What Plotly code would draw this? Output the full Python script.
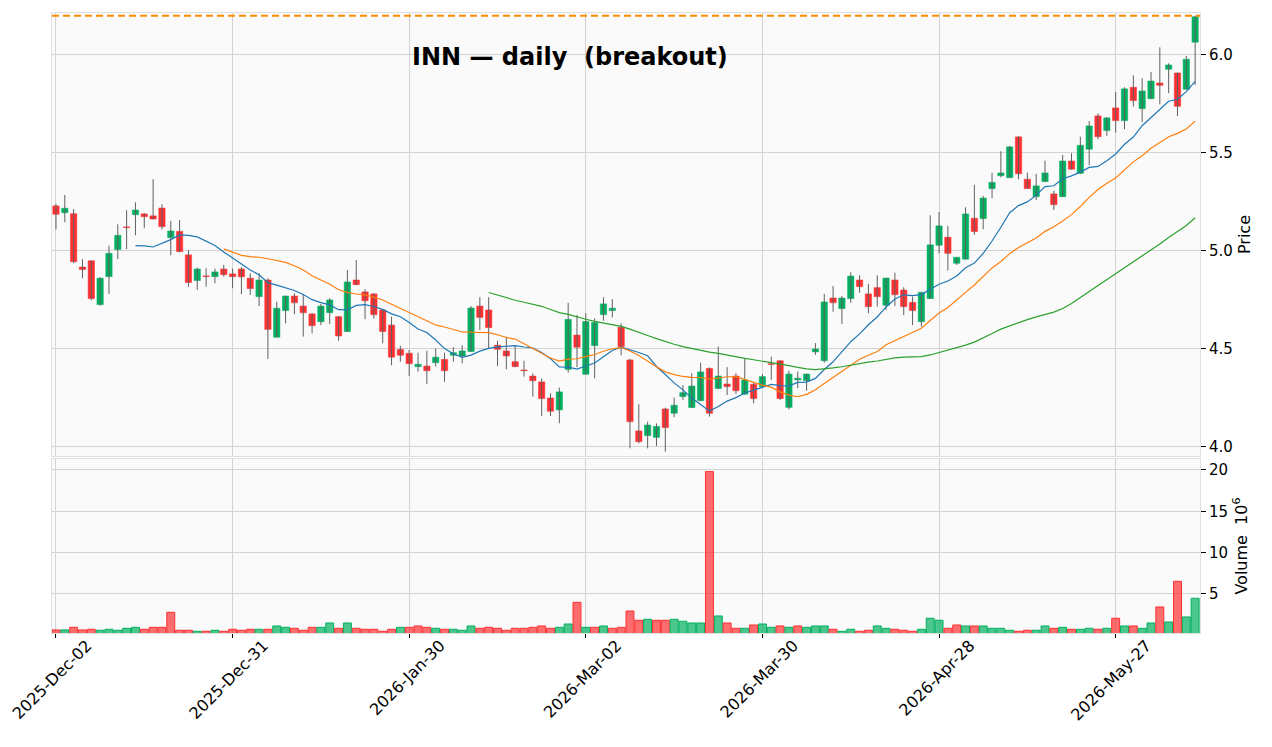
import numpy as np
import pandas as pd
import plotly.graph_objects as go

# INN daily candles
ticker = "INN"
start_date = "2025-12-02"
holidays = ["2025-12-25", "2026-01-01", "2026-01-19", "2026-02-16", "2026-04-03", "2026-05-25"]
tick_labels = ["2025-Dec-02", "2025-Dec-31", "2026-Jan-30", "2026-Mar-02",
               "2026-Mar-30", "2026-Apr-28", "2026-May-27"]
breakout_level = 6.20
mav_windows = [10, 20, 50]
mav_colors = ["#1f77b4", "#ff7f0e", "#2ca02c"]

opens = [5.230, 5.195, 5.190, 4.918, 4.950, 4.726, 4.869, 5.007, 5.123, 5.185,
         5.189, 5.179, 5.219, 5.068, 5.100, 4.980, 4.849, 4.873, 4.869, 4.908,
         4.883, 4.908, 4.861, 4.767, 4.852, 4.560, 4.696, 4.770, 4.719, 4.679,
         4.639, 4.685, 4.665, 4.589, 4.852, 4.791, 4.781, 4.699, 4.622, 4.498,
         4.478, 4.410, 4.413, 4.430, 4.447, 4.468, 4.464, 4.487, 4.719, 4.699,
         4.519, 4.490, 4.435, 4.393, 4.362, 4.332, 4.250, 4.189, 4.396, 4.571,
         4.371, 4.517, 4.675, 4.696, 4.611, 4.444, 4.082, 4.058, 4.049, 4.194,
         4.172, 4.257, 4.201, 4.236, 4.401, 4.298, 4.321, 4.362, 4.269, 4.320,
         4.308, 4.425, 4.440, 4.202, 4.342, 4.338, 4.485, 4.440, 4.760, 4.706,
         4.757, 4.852, 4.781, 4.813, 4.723, 4.852, 4.801, 4.738, 4.639, 4.757,
         5.029, 5.070, 4.937, 4.958, 5.167, 5.165, 5.318, 5.384, 5.374, 5.582,
         5.366, 5.277, 5.354, 5.291, 5.277, 5.459, 5.396, 5.519, 5.689, 5.614,
         5.730, 5.665, 5.835, 5.726, 5.777, 5.857, 5.927, 5.908, 5.825, 6.065]
highs = [5.240, 5.286, 5.214, 4.958, 4.951, 4.866, 5.027, 5.136, 5.208, 5.248,
         5.192, 5.366, 5.238, 5.153, 5.158, 5.005, 4.915, 4.912, 4.910, 4.929,
         4.910, 4.917, 4.886, 4.886, 4.861, 4.741, 4.772, 4.784, 4.779, 4.681,
         4.730, 4.759, 4.667, 4.903, 4.954, 4.805, 4.783, 4.701, 4.665, 4.515,
         4.495, 4.481, 4.491, 4.503, 4.481, 4.509, 4.519, 4.719, 4.764, 4.764,
         4.541, 4.563, 4.520, 4.440, 4.376, 4.349, 4.274, 4.303, 4.736, 4.673,
         4.682, 4.656, 4.764, 4.754, 4.631, 4.450, 4.218, 4.129, 4.120, 4.200,
         4.252, 4.316, 4.376, 4.430, 4.405, 4.512, 4.407, 4.376, 4.453, 4.328,
         4.372, 4.461, 4.442, 4.389, 4.385, 4.374, 4.530, 4.781, 4.821, 4.770,
         4.891, 4.876, 4.832, 4.876, 4.862, 4.889, 4.815, 4.767, 4.789, 5.182,
         5.199, 5.128, 4.968, 5.223, 5.337, 5.281, 5.399, 5.509, 5.536, 5.585,
         5.400, 5.393, 5.461, 5.308, 5.490, 5.498, 5.583, 5.663, 5.702, 5.681,
         5.811, 5.835, 5.896, 5.881, 5.913, 6.039, 5.957, 5.910, 5.995, 6.200]
lows = [5.110, 5.146, 4.937, 4.861, 4.748, 4.722, 4.781, 4.958, 5.009, 5.080,
        5.116, 5.160, 5.110, 4.978, 4.993, 4.818, 4.801, 4.818, 4.835, 4.869,
        4.810, 4.779, 4.776, 4.719, 4.449, 4.559, 4.631, 4.677, 4.563, 4.580,
        4.622, 4.628, 4.542, 4.587, 4.826, 4.652, 4.655, 4.529, 4.417, 4.435,
        4.362, 4.384, 4.321, 4.410, 4.333, 4.435, 4.427, 4.485, 4.597, 4.503,
        4.413, 4.396, 4.407, 4.359, 4.257, 4.158, 4.158, 4.121, 4.379, 4.407,
        4.369, 4.350, 4.644, 4.661, 4.468, 3.993, 4.019, 3.993, 4.005, 3.976,
        4.152, 4.240, 4.199, 4.234, 4.155, 4.296, 4.265, 4.270, 4.267, 4.223,
        4.306, 4.342, 4.240, 4.192, 4.300, 4.287, 4.470, 4.430, 4.690, 4.628,
        4.736, 4.787, 4.682, 4.716, 4.699, 4.719, 4.673, 4.622, 4.614, 4.755,
        4.988, 4.900, 4.929, 4.956, 5.082, 5.111, 5.269, 5.376, 5.372, 5.366,
        5.316, 5.260, 5.352, 5.209, 5.275, 5.415, 5.394, 5.437, 5.570, 5.587,
        5.604, 5.621, 5.736, 5.657, 5.775, 5.748, 5.805, 5.689, 5.823, 5.847]
closes = [5.187, 5.218, 4.945, 4.905, 4.757, 4.861, 4.988, 5.080, 5.119, 5.209,
          5.175, 5.163, 5.124, 5.102, 4.997, 4.839, 4.908, 4.869, 4.893, 4.879,
          4.869, 4.868, 4.808, 4.852, 4.600, 4.708, 4.770, 4.736, 4.685, 4.619,
          4.719, 4.750, 4.566, 4.842, 4.828, 4.746, 4.675, 4.589, 4.458, 4.468,
          4.425, 4.422, 4.389, 4.458, 4.389, 4.481, 4.490, 4.709, 4.661, 4.609,
          4.498, 4.464, 4.410, 4.389, 4.338, 4.247, 4.182, 4.281, 4.651, 4.509,
          4.640, 4.635, 4.730, 4.708, 4.512, 4.129, 4.027, 4.112, 4.105, 4.099,
          4.213, 4.277, 4.311, 4.383, 4.172, 4.362, 4.308, 4.287, 4.342, 4.247,
          4.359, 4.421, 4.247, 4.372, 4.351, 4.372, 4.500, 4.740, 4.736, 4.760,
          4.872, 4.818, 4.716, 4.767, 4.862, 4.777, 4.716, 4.696, 4.789, 5.031,
          5.128, 4.988, 4.968, 5.189, 5.099, 5.270, 5.350, 5.398, 5.531, 5.394,
          5.318, 5.332, 5.398, 5.236, 5.459, 5.417, 5.539, 5.638, 5.583, 5.679,
          5.665, 5.827, 5.767, 5.816, 5.867, 5.845, 5.949, 5.738, 5.978, 6.195]
# volume in millions
volume_m = [0.65, 0.65, 0.97, 0.65, 0.73, 0.61, 0.73, 0.61, 0.85, 0.97,
            0.73, 0.97, 0.97, 2.79, 0.61, 0.61, 0.49, 0.49, 0.61, 0.49,
            0.73, 0.61, 0.73, 0.73, 0.73, 1.13, 0.97, 0.85, 0.61, 0.97,
            0.97, 1.49, 0.85, 1.49, 0.85, 0.73, 0.73, 0.49, 0.73, 0.97,
            0.97, 1.13, 0.97, 0.85, 0.73, 0.73, 0.61, 1.13, 0.85, 0.97,
            0.85, 0.61, 0.85, 0.85, 0.97, 1.13, 0.85, 0.97, 1.37, 3.99,
            0.97, 0.97, 1.13, 0.85, 0.97, 2.94, 1.82, 1.94, 1.82, 1.82,
            1.94, 1.70, 1.49, 1.49, 19.8, 2.34, 1.49, 0.85, 0.85, 1.25,
            1.37, 0.97, 1.13, 0.97, 1.13, 0.97, 1.13, 1.13, 0.73, 0.49,
            0.73, 0.49, 0.61, 1.13, 0.85, 0.73, 0.61, 0.49, 0.73, 2.06,
            1.82, 0.85, 1.25, 1.13, 1.13, 1.13, 0.85, 0.85, 0.61, 0.49,
            0.61, 0.61, 1.13, 0.85, 0.97, 0.73, 0.73, 0.85, 0.73, 0.85,
            2.06, 1.13, 1.13, 0.85, 1.49, 3.43, 1.61, 6.53, 2.22, 4.48]

up_color = "#00b060"
down_color = "#fe3032"
wick_color = "#606060"

dates = pd.date_range(start_date, periods=len(closes),
                      freq=pd.offsets.CustomBusinessDay(holidays=holidays))
date_text = list(dates.strftime("%Y-%b-%d"))
bar = np.arange(len(closes))
tick_pos = [date_text.index(t) for t in tick_labels]

df = pd.DataFrame({"open": opens, "high": highs, "low": lows, "close": closes, "vol": volume_m})
up = df["close"] >= df["open"]
body_color = np.where(up, up_color, down_color)
# volume bars are coloured against the previous close
prev_close = df["close"].shift(1).fillna(df["open"])
vol_up = df["close"] >= prev_close
vol_line = np.where(vol_up, up_color, down_color)
vol_fill = np.where(vol_up, "rgba(0,176,96,0.7)", "rgba(254,48,50,0.7)")

wick_x, wick_y = [], []
for i in bar:
    wick_x += [i, i, None]
    wick_y += [highs[i], lows[i], None]

body_base = np.minimum(df["open"], df["close"])
body_height = np.maximum((df["close"] - df["open"]).abs(), 0.004)

fig = go.Figure()
fig.add_trace(go.Scatter(x=wick_x, y=wick_y, mode="lines", xaxis="x2", yaxis="y",
                         line=dict(color=wick_color, width=1), hoverinfo="skip"))
fig.add_trace(go.Bar(x=bar, y=body_height, base=body_base, width=0.72, xaxis="x2", yaxis="y",
                     marker=dict(color=body_color, line=dict(color=body_color, width=0.5))))
for w, c in zip(mav_windows, mav_colors):
    fig.add_trace(go.Scatter(x=bar, y=df["close"].rolling(w).mean(), mode="lines",
                             xaxis="x2", yaxis="y", line=dict(color=c, width=1.2)))
fig.add_trace(go.Bar(x=bar, y=df["vol"], width=0.9, xaxis="x", yaxis="y2",
                     marker=dict(color=vol_fill, line=dict(color=vol_line, width=1))))

fig.add_shape(type="line", xref="x2 domain", yref="y", x0=0, x1=1,
              y0=breakout_level, y1=breakout_level,
              line=dict(color="#ff8c00", width=2, dash="7px,4px"))

fig.add_annotation(text="<b>" + ticker + " — daily\u00a0 (breakout)</b>", xref="paper", yref="paper",
                   x=0.4512, y=0.929, xanchor="center", yanchor="middle", showarrow=False,
                   font=dict(family="DejaVu Sans", size=24, color="black"))

# the page has an 8px body margin, so the figure is 8px smaller and its margins shifted
grid = "#d3d3d3"
xcommon = dict(range=[-0.45, 129.55], tickvals=tick_pos, showgrid=True, gridcolor=grid,
               gridwidth=1, zeroline=False, showline=True, linecolor="#e0e0e0", mirror=True,
               automargin=False)
fig.update_layout(
    width=1264, height=739,
    margin=dict(l=44, r=72, t=5, b=114, autoexpand=False),
    paper_bgcolor="white", plot_bgcolor="#fafafa",
    showlegend=False, barmode="overlay",
    font=dict(family="DejaVu Sans", size=15, color="black"),
    xaxis=dict(anchor="y2", ticktext=tick_labels, tickangle=-45, ticks="outside",
               ticklen=4, tickcolor="black", tickfont=dict(size=16),
               ticklabelshift=31, ticklabelstandoff=-8, ticklabeloverflow="allow", **xcommon),
    xaxis2=dict(anchor="y", matches="x", showticklabels=False, **xcommon),
    yaxis=dict(domain=[0.2855, 1], anchor="x2", side="right", range=[3.954, 6.214],
               tickvals=[4.0, 4.5, 5.0, 5.5, 6.0], tickformat=".1f", ticks="outside",
               ticklen=5, tickcolor="black", showgrid=True, gridcolor=grid, zeroline=False,
               showline=True, linecolor="#e0e0e0", mirror=True, automargin=False,
               title=dict(text="Price", font=dict(size=16), standoff=6)),
    yaxis2=dict(domain=[0, 0.2806], anchor="x", side="right", range=[0.28, 21.32],
                tickvals=[5, 10, 15, 20], ticks="outside", ticklen=5, tickcolor="black",
                showgrid=True, gridcolor=grid, zeroline=False, automargin=False,
                showline=True, linecolor="#e0e0e0", mirror=True,
                title=dict(text="Volume  10<sup>6</sup>", font=dict(size=16), standoff=8)),
)

fig.write_html("out.html")
